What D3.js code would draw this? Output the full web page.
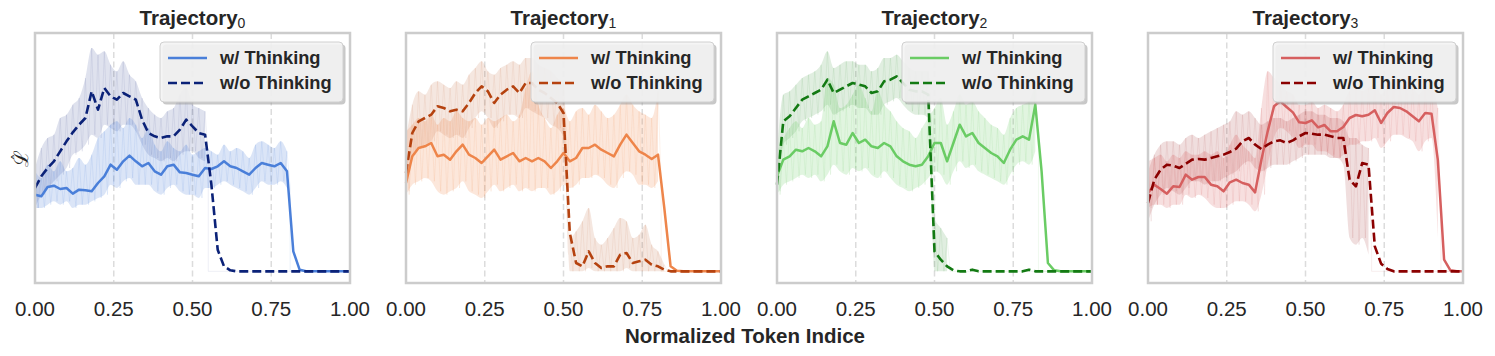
<!DOCTYPE html>
<html>
<head>
<meta charset="utf-8">
<script src="https://cdn.jsdelivr.net/npm/d3@7"></script>
<style>
  body { margin: 0; background: #fff; }
  text { font-family: "Liberation Sans", Arial, sans-serif; fill: #262626; }
</style>
</head>
<body>
<div id="chart"></div>
<script>
// every series is sampled at x = 0, 0.02, 0.04 ... 1.00
var step = 0.02;
var xTicks = [0, 0.25, 0.5, 0.75, 1];
var gridTicks = [0.25, 0.5, 0.75];
var legendLabels = ['w/ Thinking', 'w/o Thinking'];
var panelIndex = ['0', '1', '2', '3'];
var withColors = ['#4a7fd9', '#ee854a', '#6acc64', '#d65f5f'];
var withoutColors = ['#0b2278', '#b5420f', '#137a13', '#8b0000'];

// Trajectory 0 : smoothed curves
var t0With = [2.30,2.25,2.53,2.57,2.47,2.50,2.33,2.45,2.43,2.40,
  2.65,2.85,3.20,3.05,3.30,3.47,3.30,3.15,3.25,3.00,
  2.90,3.15,3.20,2.97,2.95,2.90,2.85,3.10,3.07,3.15,
  3.30,3.15,3.10,3.00,2.90,3.10,3.25,3.20,3.15,3.25,
  3.00,0.60,0.05,0,0,0,0,0,0,0,0];
var t0Without = [2.50,2.85,3.10,3.30,3.60,3.90,4.17,4.40,4.60,5.40,
  4.85,5.50,5.25,5.15,5.35,5.25,5.15,4.55,4.15,4.05,
  4.00,4.05,4.05,4.25,4.55,4.35,4.15,4.10,2.60,0.65,
  0.15,0.03,0,0,0,0,0,0,0,0,
  0,0,0,0,0,0,0,0,0,0,0];
// Trajectory 0 : raw token values (upper / lower envelope)
var t0WithHi = [3.0,2.8,3.2,3.0,3.3,3.0,3.1,3.4,3.2,3.5,
  4.0,4.2,4.4,4.5,4.3,4.6,4.4,4.0,4.3,3.8,
  3.6,3.9,3.7,3.6,3.8,3.5,3.6,3.7,3.6,3.5,
  3.8,3.6,3.7,3.6,3.4,3.8,3.9,3.8,3.7,3.9,3.6];
var t0WithLo = [1.9,1.9,2.0,2.1,2.0,2.1,1.9,2.0,2.0,2.1,
  2.2,2.3,2.6,2.5,2.7,2.8,2.6,2.6,2.6,2.4,
  2.3,2.5,2.6,2.4,2.3,2.3,2.2,2.5,2.5,2.6,
  2.7,2.6,2.5,2.4,2.3,2.5,2.7,2.6,2.6,2.7,2.5];
var t0WithoutHi = [3.1,3.7,4.0,4.1,4.6,4.7,5.0,5.2,5.8,6.7,
  6.5,6.6,6.2,6.0,6.3,5.9,5.7,5.2,4.9,4.7,
  4.6,4.8,4.9,5.3,5.5,5.0,4.9,4.8];
var t0WithoutLo = [1.9,2.3,2.5,2.7,2.9,3.1,3.5,3.6,3.8,4.1,
  4.0,4.4,4.3,4.2,4.4,4.4,4.2,3.8,3.5,3.4,
  3.3,3.4,3.3,3.5,3.6,3.6,3.4,3.3];

// Trajectory 1
var t1With = [2.65,3.45,3.70,3.75,3.85,3.45,3.50,3.35,3.60,3.80,
  3.50,3.40,3.25,3.45,3.65,3.35,3.45,3.55,3.30,3.40,
  3.30,3.40,3.30,3.10,3.30,3.55,3.30,3.40,3.70,3.70,
  3.80,3.65,3.55,3.45,3.80,4.10,3.85,3.60,3.50,3.37,
  3.50,1.90,0.15,0.02,0,0,0,0,0,0,0];
var t1Without = [2.95,4.15,4.50,4.60,4.70,4.95,4.90,4.80,4.85,4.80,
  5.05,5.35,5.55,5.40,5.05,5.30,5.45,5.55,5.35,5.65,
  5.65,5.45,5.35,5.20,5.05,4.75,1.15,0.25,0.15,0.60,
  0.25,0.10,0.15,0.15,0.50,0.55,0.25,0.30,0.35,0.20,
  0.15,0.05,0,0,0,0,0,0,0,0,0];
var t1WithHi = [4.2,4.4,4.6,4.5,4.7,4.4,4.6,4.5,4.8,4.6,
  4.5,4.6,4.4,4.6,4.5,4.6,4.7,4.5,4.7,5.5,
  6.0,5.0,4.6,4.3,4.7,4.9,4.5,4.8,4.9,4.7,
  5.0,4.8,4.6,4.7,5.0,5.3,5.0,4.8,4.7,4.6,5.4];
var t1WithLo = [2.3,2.6,2.7,2.8,2.7,2.4,2.3,2.4,2.5,2.7,
  2.4,2.3,2.2,2.4,2.6,2.4,2.5,2.6,2.4,2.5,
  2.4,2.5,2.5,2.3,2.4,2.6,2.5,2.6,2.8,2.8,
  2.9,2.8,2.6,2.5,2.8,3.0,2.9,2.6,2.6,2.5,2.7];
var t1WithoutHi = [4.0,5.0,5.4,5.3,5.6,5.7,5.6,5.5,5.7,5.6,
  5.9,6.1,6.3,6.0,5.9,6.1,6.2,6.3,6.2,6.4,
  6.4,6.2,6.1,6.0,5.8,5.6,1.0,1.2,1.5,1.9,
  1.0,0.8,1.0,1.3,1.6,1.5,1.0,1.1,1.4,0.8,0.6,0.2];
var t1WithoutLo = [2.4,3.5,3.7,3.8,3.9,4.2,4.1,4.0,4.1,4.0,
  4.3,4.6,4.8,4.6,4.3,4.5,4.7,4.7,4.6,4.9,
  4.8,4.7,4.6,4.4,4.3,4.0,0.0,0.0,0.0,0.1,
  0.0,0.0,0.0,0.0,0.0,0.1,0.0,0.0,0.0,0.0,0.0,0.0];

// Trajectory 2
var t2With = [2.85,3.35,3.45,3.65,3.60,3.70,3.60,3.45,3.75,4.50,
  3.85,3.80,4.15,3.85,3.95,3.75,3.70,3.85,3.75,3.45,
  3.30,3.20,3.15,3.20,3.45,3.85,3.85,3.30,3.85,4.40,
  4.05,4.15,3.85,3.70,3.55,3.45,3.25,3.65,3.95,4.05,
  3.95,5.00,3.00,0.25,0.03,0,0,0,0,0,0];
var t2Without = [2.60,4.50,4.65,4.90,5.15,5.25,5.35,5.45,5.75,5.35,
  5.45,5.55,5.65,5.60,5.55,5.35,5.40,5.70,5.75,5.85,
  5.65,5.45,5.40,5.40,5.30,0.60,0.35,0.15,0.03,0,
  0,0.05,0,0,0,0,0,0,0,0,
  0.05,0,0,0,0,0,0,0,0,0,0];
var t2WithHi = [3.6,4.0,4.3,4.5,4.3,4.6,4.4,4.5,5.8,5.6,
  4.9,5.0,5.3,5.6,5.2,4.8,5.4,5.0,4.8,4.5,
  4.3,4.2,4.0,4.3,4.6,4.9,5.2,4.4,4.8,5.3,
  5.0,5.1,4.8,4.6,4.4,4.3,4.1,4.6,4.9,5.0,5.1,5.6];
var t2WithLo = [2.3,2.6,2.7,2.8,2.9,2.8,2.9,2.7,2.9,3.2,
  3.0,2.9,3.1,3.0,3.1,2.9,2.8,3.0,2.8,2.6,
  2.5,2.4,2.5,2.6,2.8,3.0,2.9,2.6,3.0,3.3,
  3.1,3.2,3.0,2.9,2.8,2.7,2.6,2.9,3.2,3.3,3.2,3.6];
var t2WithoutHi = [3.5,5.3,5.4,5.6,5.8,5.9,6.0,6.2,6.6,6.1,
  6.2,6.3,6.3,6.2,6.2,6.0,6.1,6.4,6.4,6.5,
  6.3,6.1,6.0,6.0,6.0,1.6,1.3,1.0];
var t2WithoutLo = [2.4,3.8,4.0,4.2,4.5,4.6,4.7,4.8,5.0,4.7,
  4.8,4.9,5.0,4.9,4.9,4.7,4.7,5.0,5.1,5.2,
  5.0,4.8,4.7,4.7,4.6,0.0,0.0,0.0];

// Trajectory 3
var t3With = [2.35,2.60,2.47,2.33,2.55,2.53,2.90,2.75,2.83,2.83,
  2.60,2.55,2.40,2.67,2.75,2.65,2.60,2.37,3.35,4.20,
  4.95,5.10,4.93,4.77,4.47,4.45,4.53,4.32,4.39,4.20,
  4.20,4.33,4.60,4.69,4.65,4.70,4.83,4.45,4.75,4.93,
  4.90,4.80,4.65,4.50,4.75,4.73,3.35,0.35,0.03,0,0];
var t3Without = [2.05,2.75,3.05,3.20,3.17,3.10,3.23,3.35,3.37,3.35,
  3.40,3.45,3.50,3.58,3.68,3.90,4.00,3.80,3.67,3.80,
  3.90,3.93,3.85,3.93,4.05,4.15,4.13,4.10,4.10,4.05,
  4.00,4.00,2.75,2.55,3.25,3.20,0.75,0.23,0.07,0,
  0,0,0,0,0,0,0,0,0,0,0];
var t3WithHi = [3.3,3.4,3.5,3.3,3.5,3.4,3.6,3.5,3.5,3.6,
  3.5,3.6,3.4,3.8,4.1,3.8,3.6,3.4,4.9,6.0,
  5.8,5.6,5.4,5.3,5.0,5.0,5.1,4.9,5.0,4.9,
  4.8,5.0,5.4,5.5,5.4,5.5,5.6,5.3,5.5,5.7,
  5.7,5.6,5.5,5.3,5.5,5.5,4.9];
var t3WithLo = [1.9,2.0,2.0,1.9,2.0,2.0,2.3,2.2,2.3,2.2,
  2.0,1.9,1.9,2.0,2.1,2.1,2.0,1.8,2.3,3.2,
  4.0,4.3,4.2,4.0,3.7,3.8,3.8,3.6,3.6,3.5,
  3.4,3.5,3.8,3.8,3.9,3.9,4.0,3.7,3.9,4.1,
  4.1,4.0,3.9,3.6,3.9,4.0,1.0];
var t3WithoutHi = [3.0,3.5,3.8,3.9,3.9,3.8,4.0,4.1,4.0,4.1,
  4.2,4.3,4.4,4.5,4.8,4.7,4.8,4.6,4.4,4.5,
  4.6,4.6,4.5,4.6,4.7,4.8,4.8,4.7,4.7,4.6,
  4.6,4.5,4.0,4.0,3.8,3.7];
var t3WithoutLo = [1.5,2.0,2.3,2.5,2.4,2.3,2.5,2.7,2.7,2.6,
  2.7,2.7,2.8,2.9,3.0,3.2,3.3,3.1,3.0,3.1,
  3.2,3.2,3.2,3.3,3.4,3.5,3.5,3.5,3.5,3.4,
  3.4,3.2,1.0,0.8,1.0,0.5];

var panels = [
  {w: t0With, wo: t0Without, wHi: t0WithHi, wLo: t0WithLo, woHi: t0WithoutHi, woLo: t0WithoutLo},
  {w: t1With, wo: t1Without, wHi: t1WithHi, wLo: t1WithLo, woHi: t1WithoutHi, woLo: t1WithoutLo},
  {w: t2With, wo: t2Without, wHi: t2WithHi, wLo: t2WithLo, woHi: t2WithoutHi, woLo: t2WithoutLo},
  {w: t3With, wo: t3Without, wHi: t3WithHi, wLo: t3WithLo, woHi: t3WithoutHi, woLo: t3WithoutLo}
];

var width = 1495, height = 356;
var panelW = 315, panelTop = 33, panelBottom = 283, panelGap = 371, firstLeft = 35;

var svg = d3.select('#chart').append('svg')
  .attr('width', width)
  .attr('height', height);

var y = d3.scaleLinear().domain([-0.35, 7.15]).range([panelBottom, panelTop]);

panels.forEach(function(p, k) {
  var left = firstLeft + k * panelGap;
  var x = d3.scaleLinear().domain([0, 1]).range([left, left + panelW]);
  var g = svg.append('g');

  // dashed vertical grid
  g.selectAll('.grid').data(gridTicks).enter().append('line')
    .attr('x1', d => x(d)).attr('x2', d => x(d))
    .attr('y1', panelTop).attr('y2', panelBottom)
    .attr('stroke', '#dcdcdc').attr('stroke-width', 1.5)
    .attr('stroke-dasharray', '6,3.5');

  // raw traces: zigzag between upper and lower readings, then flat at zero
  function rawPoints(hi, lo) {
    var pts = [];
    hi.forEach(function(h, i) {
      pts.push([i * step, h]);
      pts.push([i * step + step / 2, lo[i]]);
    });
    var end = (hi.length - 1) * step + step / 2;
    pts.push([end, 0]);
    pts.push([1, 0]);
    return pts;
  }
  var rawLine = d3.line().x(d => x(d[0])).y(d => y(d[1]));
  var band = d3.area()
    .x((d, i) => x(i * step))
    .y0(d => y(d[1]))
    .y1(d => y(d[0]))
    .curve(d3.curveMonotoneX);

  [[p.woHi, p.woLo, withoutColors[k], 0.13], [p.wHi, p.wLo, withColors[k], 0.2]].forEach(function(r) {
    var pairs = r[0].map((h, i) => [h, r[1][i]]);
    g.append('path').datum(pairs)
      .attr('d', band)
      .attr('fill', r[2]).attr('fill-opacity', r[3]);
    g.append('path').datum(rawPoints(r[0], r[1]))
      .attr('d', rawLine)
      .attr('fill', 'none')
      .attr('stroke', r[2]).attr('stroke-opacity', r[3] * 0.7)
      .attr('stroke-width', 0.8);
  });

  var line = d3.line().x((d, i) => x(i * step)).y(d => y(d));

  g.append('path').datum(p.w)
    .attr('d', line)
    .attr('fill', 'none')
    .attr('stroke', withColors[k])
    .attr('stroke-width', 2.5)
    .attr('stroke-linejoin', 'round');

  g.append('path').datum(p.wo)
    .attr('d', line)
    .attr('fill', 'none')
    .attr('stroke', withoutColors[k])
    .attr('stroke-width', 2.6)
    .attr('stroke-dasharray', '9,4')
    .attr('stroke-linejoin', 'round');

  // frame
  g.append('rect')
    .attr('x', left).attr('y', panelTop)
    .attr('width', panelW).attr('height', panelBottom - panelTop)
    .attr('fill', 'none').attr('stroke', '#cccccc').attr('stroke-width', 2.5);

  // tick labels
  g.selectAll('.tick').data(xTicks).enter().append('text')
    .attr('x', d => x(d)).attr('y', 316)
    .attr('text-anchor', 'middle')
    .style('font-size', '20.5px')
    .text(d => d3.format('.2f')(d));

  // title with subscript
  var title = g.append('text')
    .attr('x', left + panelW / 2).attr('y', 25)
    .attr('text-anchor', 'middle');
  title.append('tspan').style('font-size', '20.5px').style('font-weight', 'bold').text('Trajectory');
  title.append('tspan').attr('dy', 3).style('font-size', '14px').text(panelIndex[k]);

  // legend
  var lx = left + 125, ly = 42;
  var leg = g.append('g');
  leg.append('rect')
    .attr('x', lx + 2.5).attr('y', ly + 2.5).attr('width', 183).attr('height', 60).attr('rx', 4)
    .attr('fill', '#9a9a9a').attr('fill-opacity', 0.55);
  leg.append('rect')
    .attr('x', lx).attr('y', ly).attr('width', 183).attr('height', 60).attr('rx', 4)
    .attr('fill', '#f4f4f4').attr('fill-opacity', 0.88)
    .attr('stroke', '#d0d0d0').attr('stroke-width', 1);
  legendLabels.forEach(function(lab, j) {
    var yy = ly + 16 + j * 25;
    leg.append('line')
      .attr('x1', lx + 8).attr('x2', lx + 47)
      .attr('y1', yy).attr('y2', yy)
      .attr('stroke', j === 0 ? withColors[k] : withoutColors[k])
      .attr('stroke-width', 2.6)
      .attr('stroke-dasharray', j === 0 ? null : '9,4');
    leg.append('text')
      .attr('x', lx + 60).attr('y', yy + 6.3)
      .style('font-size', '18.3px').style('font-weight', 'bold')
      .text(lab);
  });
});

// y label: hat L
var yl = svg.append('g').attr('transform', 'translate(22,158) rotate(-90)');
yl.append('text').attr('x', 0).attr('y', 6)
  .attr('text-anchor', 'middle')
  .style('font-family', '"DejaVu Serif", serif').style('font-size', '20px')
  .text('\u2112');
yl.append('text').attr('x', 1).attr('y', 1)
  .attr('text-anchor', 'middle')
  .style('font-family', '"DejaVu Serif", serif').style('font-size', '15px')
  .text('\u02C6');

// shared x axis title
svg.append('text')
  .attr('x', 745).attr('y', 343)
  .attr('text-anchor', 'middle')
  .style('font-size', '20.5px').style('font-weight', 'bold')
  .text('Normalized Token Indice');
</script>
</body>
</html>
